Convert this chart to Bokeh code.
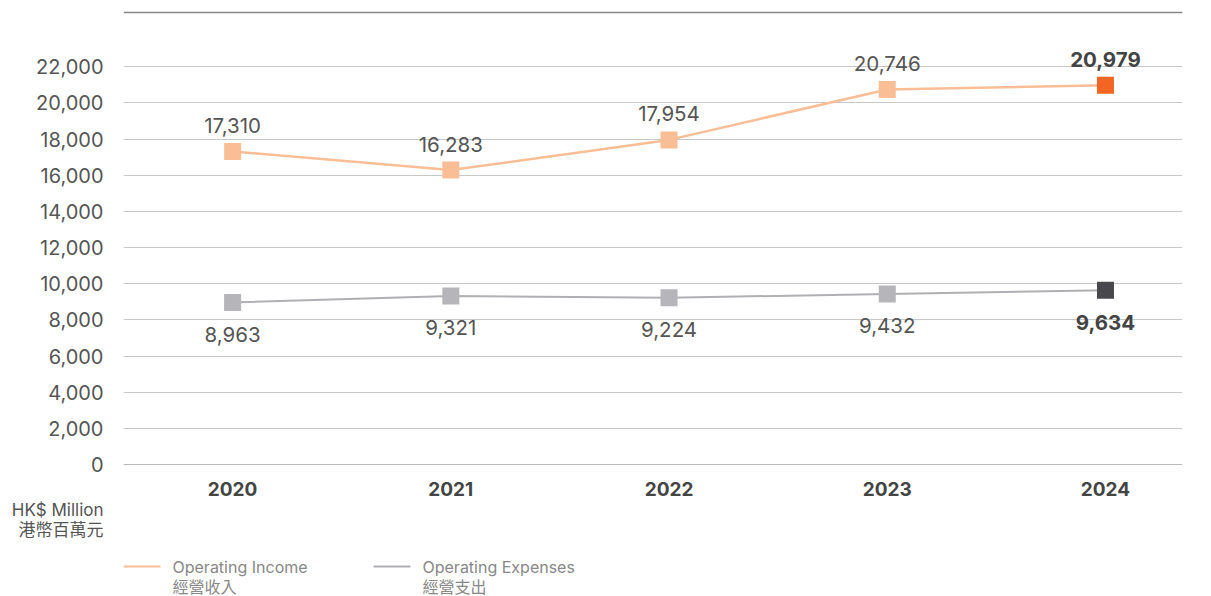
from bokeh.plotting import figure
from bokeh.models import ColumnDataSource, Range1d, FixedTicker, NumeralTickFormatter, Span
from bokeh.layouts import column
from bokeh.core.properties import value
from bokeh.embed import file_html
from bokeh.resources import INLINE

years = [2020, 2021, 2022, 2023, 2024]
operating_income = [17310, 16283, 17954, 20746, 20979]
operating_expenses = [8963, 9321, 9224, 9432, 9634]
y_ticks = [0, 2000, 4000, 6000, 8000, 10000, 12000, 14000, 16000, 18000, 20000, 22000]
series_names = ["Operating Income", "Operating Expenses"]
series_names_zh = ["經營收入", "經營支出"]
unit_labels = ["HK$ Million", "港幣百萬元"]

FONT = "Inter"
CJK = "Noto Sans CJK TC"
INC_LIGHT, INC_DARK = "#F9BE96", "#F26522"
EXP_LIGHT, EXP_DARK = "#B5B5BA", "#48484C"
EXP_LINE = "#B0B0B4"

W = 1200
FRAME_L, FRAME_R = 123, 1182
MAIN_H = 499
BOT_H = 596 - MAIN_H

n = len(years)
last = n - 1
src = ColumnDataSource(dict(
    x=years,
    inc=operating_income,
    exp=operating_expenses,
    inc_lbl=[f"{v:,}" for v in operating_income],
    exp_lbl=[f"{v:,}" for v in operating_expenses],
    inc_col=[INC_DARK if i == last else INC_LIGHT for i in range(n)],
    exp_col=[EXP_DARK if i == last else EXP_LIGHT for i in range(n)],
    lbl_style=["bold" if i == last else "normal" for i in range(n)],
    lbl_col=["#444444" if i == last else "#555555" for i in range(n)],
))

p = figure(width=W, height=MAIN_H, output_backend="svg", toolbar_location=None,
           x_range=Range1d(2019.5, 2024.353), y_range=Range1d(0, 25221),
           min_border_left=FRAME_L, min_border_right=W - FRAME_R, min_border_top=8,
           min_border_bottom=MAIN_H - 464)
p.outline_line_color = None
p.background_fill_color = "white"
p.border_fill_color = "white"

p.xaxis.ticker = FixedTicker(ticks=years)
p.xaxis.major_label_overrides = {y: str(y) for y in years}
p.xaxis.axis_line_color = None
p.xaxis.major_tick_line_color = None
p.xaxis.minor_tick_line_color = None
p.xaxis.major_label_standoff = 11
p.xaxis.major_label_text_font = FONT
p.xaxis.major_label_text_font_style = "bold"
p.xaxis.major_label_text_font_size = "19px"
p.xaxis.major_label_text_color = "#444444"

p.yaxis.ticker = FixedTicker(ticks=y_ticks)
p.yaxis.formatter = NumeralTickFormatter(format="0,0")
p.yaxis.axis_line_color = None
p.yaxis.major_tick_line_color = None
p.yaxis.minor_tick_line_color = None
p.yaxis.major_label_standoff = 14
p.yaxis.major_label_text_font = FONT
p.yaxis.major_label_text_font_size = "20px"
p.yaxis.major_label_text_color = "#555555"

p.xgrid.grid_line_color = None
p.ygrid.ticker = FixedTicker(ticks=y_ticks[1:])
p.ygrid.grid_line_color = "#C8C8C8"
p.ygrid.grid_line_width = 1

p.add_layout(Span(location=0, dimension="width", line_color="#777777", line_width=1.2))
p.add_layout(Span(location=25000, dimension="width", line_color="#888888", line_width=1.5))

p.line("x", "inc", source=src, line_color=INC_LIGHT, line_width=2.5)
p.line("x", "exp", source=src, line_color=EXP_LINE, line_width=2)
p.scatter("x", "inc", source=src, marker="square", size=17, fill_color="inc_col", line_color=None)
p.scatter("x", "exp", source=src, marker="square", size=17, fill_color="exp_col", line_color=None)

p.text("x", "inc", text="inc_lbl", source=src, y_offset=-26, text_align="center",
       text_baseline="middle", text_font=value(FONT), text_font_size="20.5px",
       text_font_style="lbl_style", text_color="lbl_col")
p.text("x", "exp", text="exp_lbl", source=src, y_offset=32, text_align="center",
       text_baseline="middle", text_font=value(FONT), text_font_size="20.5px",
       text_font_style="lbl_style", text_color="lbl_col")

# bottom strip: frame aligned with main frame; x and y in page pixels
top = MAIN_H
unit_y = [508, 529]
q = figure(width=W, height=BOT_H, output_backend="svg", toolbar_location=None,
           x_range=Range1d(FRAME_L, FRAME_R), y_range=Range1d(top + BOT_H, top),
           x_axis_location=None,
           min_border_left=FRAME_L, min_border_right=W - FRAME_R,
           min_border_top=0, min_border_bottom=0)
q.grid.visible = False
q.outline_line_color = None
q.background_fill_color = "white"
q.border_fill_color = "white"
q.yaxis.ticker = FixedTicker(ticks=unit_y)
q.yaxis.major_label_overrides = {unit_y[0]: unit_labels[0], unit_y[1]: unit_labels[1]}
q.yaxis.axis_line_color = None
q.yaxis.major_tick_line_color = None
q.yaxis.minor_tick_line_color = None
q.yaxis.major_label_standoff = 14
q.yaxis.major_label_text_font = f"{FONT}, '{CJK}'"
q.yaxis.major_label_text_font_size = "17px"
q.yaxis.major_label_text_color = "#555555"

for (x0, col), name, zh in zip([(123, INC_LIGHT), (373, EXP_LINE)], series_names, series_names_zh):
    q.segment(x0=[x0], y0=[566], x1=[x0 + 37], y1=[566], line_color=col, line_width=2)
    q.text(x=[x0 + 49], y=[566], text=[name], text_align="left", text_baseline="middle",
           text_font=value(FONT), text_font_size="16px", text_color="#888888")
    q.text(x=[x0 + 49], y=[585], text=[zh], text_align="left", text_baseline="middle",
           text_font=value(CJK), text_font_size="16px", text_color="#888888")

layout = column(p, q, spacing=0)
open("out.html", "w").write(file_html(layout, INLINE))
